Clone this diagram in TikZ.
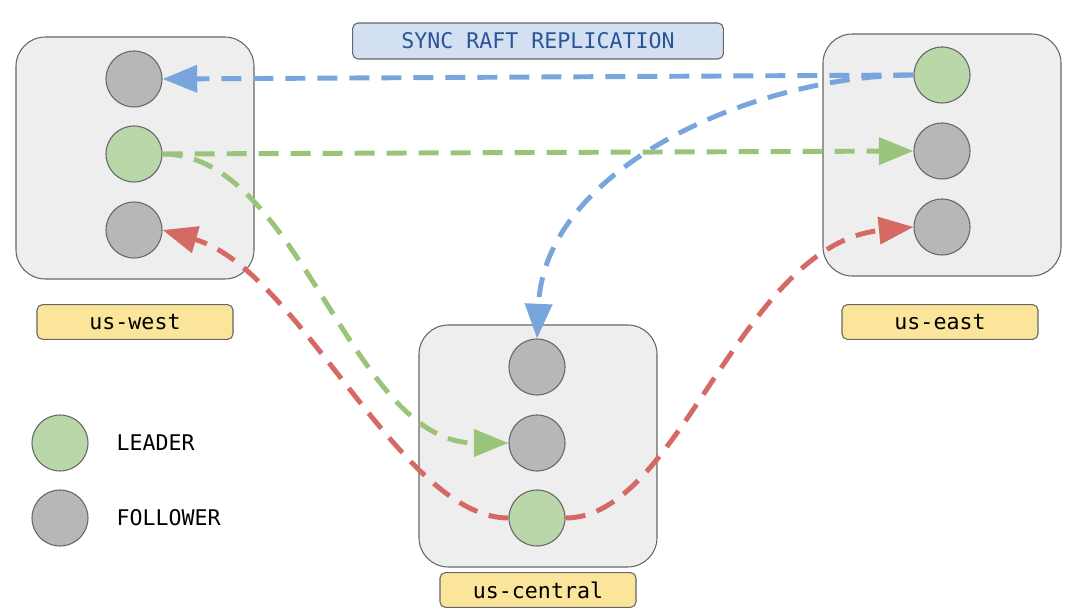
\documentclass[tikz,border=0pt]{standalone}
\usepackage{fontspec}
\setmonofont{DejaVu Sans Mono}
\usepackage{xcolor}
\usepackage{tikz}
\usetikzlibrary{arrows.meta,positioning}

\definecolor{boxgray}{HTML}{EEEEEE}
\definecolor{edgegray}{HTML}{666666}
\definecolor{leadgreen}{HTML}{B9D7A8}
\definecolor{follgray}{HTML}{B7B7B7}
\definecolor{tagyellow}{HTML}{FBE59A}
\definecolor{titleblue}{HTML}{D2E0F2}
\definecolor{titletext}{HTML}{2B5597}
\definecolor{syncblue}{HTML}{78A6DC}
\definecolor{syncgreen}{HTML}{9AC47A}
\definecolor{syncred}{HTML}{D46A63}

\begin{document}
\begin{tikzpicture}[
        x=0.75pt, y=-0.75pt,
        font=\ttfamily\fontsize{16.2}{19}\selectfont,
        region/.style={rectangle, rounded corners=22pt, draw=edgegray, fill=boxgray, line width=0.8pt, minimum width=178.5pt, minimum height=181.5pt},
        leader/.style={circle, draw=edgegray, fill=leadgreen, line width=0.8pt, minimum size=42pt, inner sep=0pt},
        follower/.style={circle, draw=edgegray, fill=follgray, line width=0.8pt, minimum size=42pt, inner sep=0pt},
        tag/.style={rectangle, rounded corners=4pt, draw=edgegray, fill=tagyellow, line width=0.8pt, minimum width=147pt, minimum height=26pt},
        sync/.style={line width=3.7pt, dash pattern=on 15pt off 9pt, -{Triangle[length=26pt,width=20pt]}}
    ]
        \useasboundingbox (0,0) rectangle (1079,616);

        % Regions
        \node[region] (west) at (135,158) {};
        \node[region] (east) at (942,155) {};
        \node[region] (central) at (538,446) {};

        \node[tag] (westtag) at (135,322) {us-west};
        \node[tag] (easttag) at (940,322) {us-east};
        \node[tag] (centraltag) at (538,590) {us-central};

        \node[rectangle, rounded corners=4pt, draw=edgegray, fill=titleblue, line width=0.8pt, minimum width=278pt, minimum height=27pt, text=titletext] (title) at (538,41) {SYNC RAFT REPLICATION};

        % Replicas
        \node[follower] (wf1) at (134,79) {};
        \node[leader] (wl) at (134,154) {};
        \node[follower] (wf2) at (134,230) {};

        \node[leader] (el) at (942,75) {};
        \node[follower] (ef1) at (942,151) {};
        \node[follower] (ef2) at (942,227) {};

        \node[follower] (cf1) at (537,367) {};
        \node[follower] (cf2) at (537,443) {};
        \node[leader] (cl) at (537,518) {};

        % Legend
        \node[leader] (legl) at (60,443) {};
        \node[follower] (legf) at (60,518) {};
        \node[anchor=west] (legltext) at (112,443) {LEADER};
        \node[anchor=west] (legftext) at (112,518) {FOLLOWER};

        % Replication from each leader
        \draw[sync, syncblue] (el.west) -- (wf1.east);
        \draw[sync, syncblue] (el.west) .. controls (760,75) and (545,165) .. (cf1.north);
        \draw[sync, syncgreen] (wl.east) -- (ef1.west);
        \draw[sync, syncgreen] (wl.east) .. controls (300,154) and (350,443) .. (cf2.west);
        \draw[sync, syncred] (cl.west) .. controls (400,518) and (300,270) .. (wf2.east);
        \draw[sync, syncred] (cl.east) .. controls (680,518) and (740,245) .. (ef2.west);
    \end{tikzpicture}
\end{document}
